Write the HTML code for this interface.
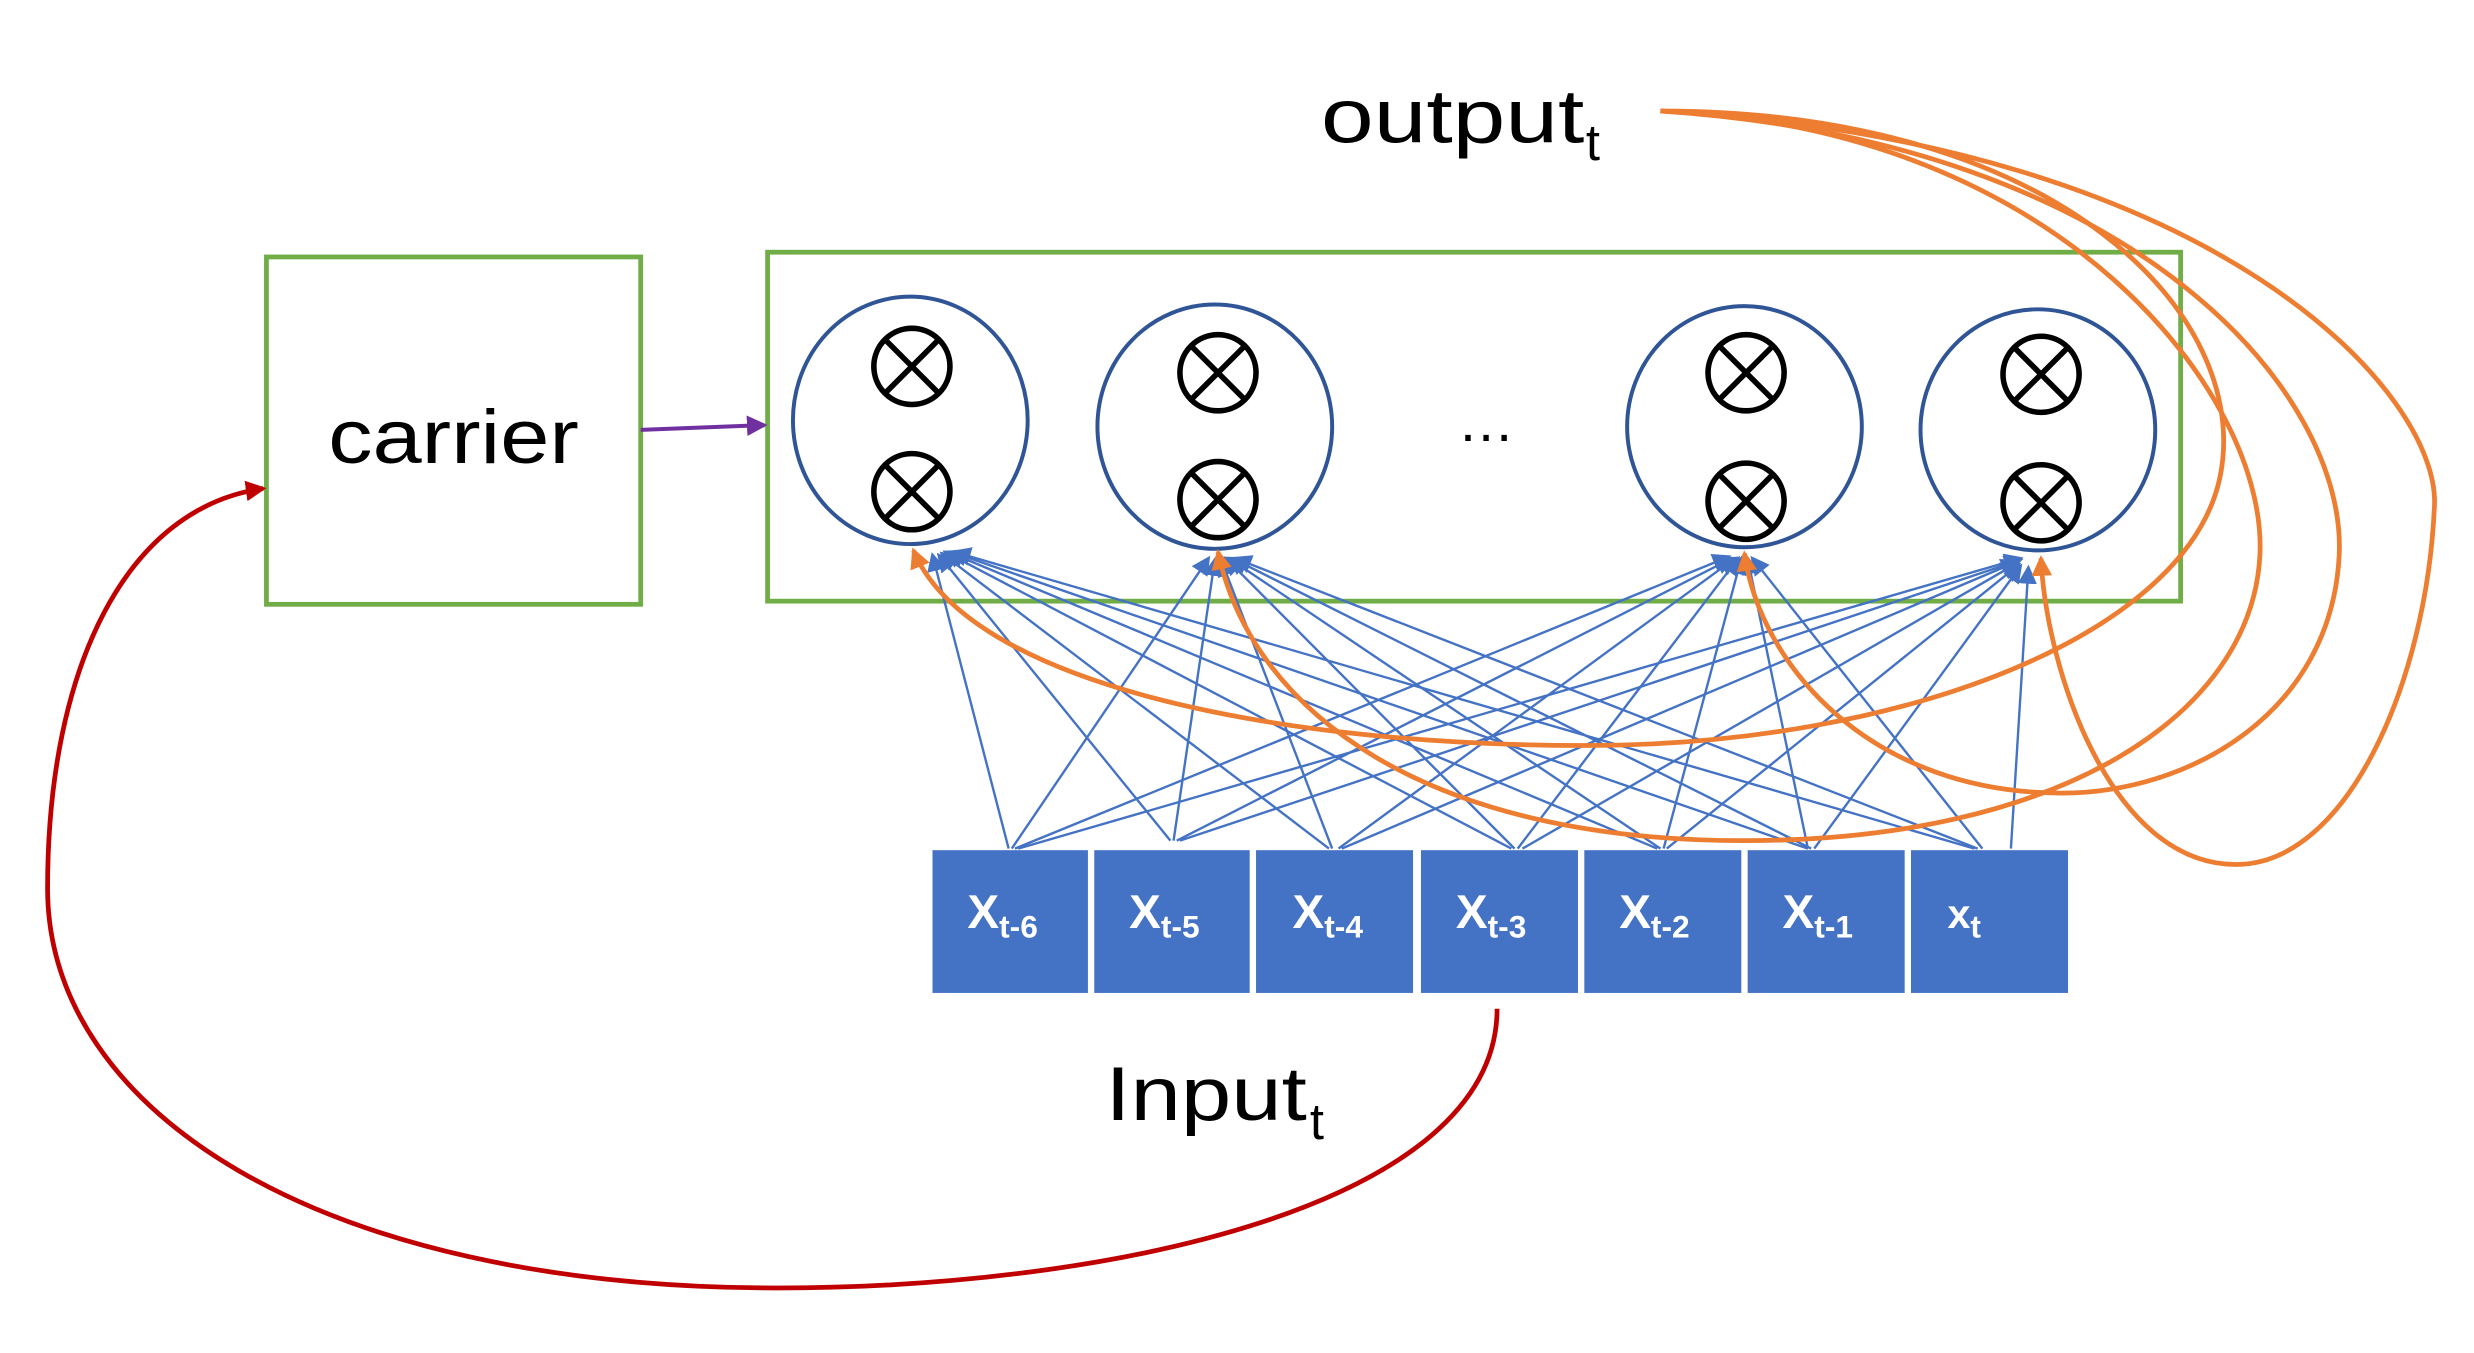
<!DOCTYPE html>
<html><head><style>html,body{margin:0;padding:0;background:#fff}svg{display:block}</style></head>
<body>
<svg width="2474" height="1353" viewBox="0 0 1560 853" preserveAspectRatio="none" xmlns="http://www.w3.org/2000/svg">
<defs>
<marker id="ab" markerWidth="12" markerHeight="12" refX="10" refY="6" orient="auto" markerUnits="userSpaceOnUse" viewBox="0 0 12 12"><path d="M0,0 L12,6 L0,12 z" fill="#4472C4"/></marker>
<marker id="ao" markerWidth="13" markerHeight="13" refX="11" refY="6.5" orient="auto" markerUnits="userSpaceOnUse" viewBox="0 0 13 13"><path d="M0,0 L13,6.5 L0,13 z" fill="#ED7D31"/></marker>
<marker id="ar" markerWidth="13" markerHeight="13" refX="11" refY="6.5" orient="auto" markerUnits="userSpaceOnUse" viewBox="0 0 13 13"><path d="M0,0 L13,6.5 L0,13 z" fill="#C00000"/></marker>
<marker id="ap" markerWidth="13" markerHeight="13" refX="11" refY="6.5" orient="auto" markerUnits="userSpaceOnUse" viewBox="0 0 13 13"><path d="M0,0 L13,6.5 L0,13 z" fill="#7030A0"/></marker>
</defs>
<rect x="168" y="162" width="236" height="219" fill="none" stroke="#70AD47" stroke-width="3"/>
<text x="207" y="292" font-family="Liberation Sans, sans-serif" font-size="48" textLength="158" lengthAdjust="spacingAndGlyphs" fill="#000">carrier</text>
<rect x="484" y="159" width="891" height="220" fill="none" stroke="#70AD47" stroke-width="3"/>
<line x1="404" y1="271" x2="482" y2="268" stroke="#7030A0" stroke-width="2.5" marker-end="url(#ap)"/>
<g fill="none" stroke="#2F5597" stroke-width="2.5">
<ellipse cx="574" cy="265" rx="74" ry="78"/>
<ellipse cx="766" cy="269" rx="74" ry="77"/>
<ellipse cx="1100" cy="269" rx="74" ry="76"/>
<ellipse cx="1285" cy="271" rx="74" ry="76"/>
</g>
<g fill="none" stroke="#000" stroke-width="3.5">
<ellipse cx="575" cy="231" rx="24" ry="24"/><path d="M558,214 L592,248 M592,214 L558,248"/>
<ellipse cx="575" cy="310" rx="24" ry="24"/><path d="M558,293 L592,327 M592,293 L558,327"/>
<ellipse cx="768" cy="235" rx="24" ry="24"/><path d="M751,218 L785,252 M785,218 L751,252"/>
<ellipse cx="768" cy="315" rx="24" ry="24"/><path d="M751,298 L785,332 M785,298 L751,332"/>
<ellipse cx="1101" cy="235" rx="24" ry="24"/><path d="M1084,218 L1118,252 M1118,218 L1084,252"/>
<ellipse cx="1101" cy="316" rx="24" ry="24"/><path d="M1084,299 L1118,333 M1118,299 L1084,333"/>
<ellipse cx="1287" cy="236" rx="24" ry="24"/><path d="M1270,219 L1304,253 M1304,219 L1270,253"/>
<ellipse cx="1287" cy="317" rx="24" ry="24"/><path d="M1270,300 L1304,334 M1304,300 L1270,334"/>
</g>
<text x="937" y="278" font-family="Liberation Sans, sans-serif" font-size="36" text-anchor="middle">…</text>
<g stroke="#4472C4" stroke-width="1.5" marker-end="url(#ab)">
<line x1="636" y1="535" x2="588" y2="350"/><line x1="638" y1="535" x2="762" y2="352"/><line x1="640" y1="535" x2="1090" y2="351"/><line x1="642" y1="535" x2="1274" y2="352"/>
<line x1="738" y1="530" x2="592" y2="350"/><line x1="740" y1="530" x2="766" y2="353"/><line x1="742" y1="530" x2="1092" y2="352"/><line x1="744" y1="530" x2="1274" y2="353"/>
<line x1="838" y1="535" x2="594" y2="349"/><line x1="840" y1="535" x2="770" y2="353"/><line x1="844" y1="535" x2="1094" y2="352"/><line x1="846" y1="535" x2="1272" y2="354"/>
<line x1="953" y1="535" x2="596" y2="348"/><line x1="955" y1="535" x2="773" y2="352"/><line x1="957" y1="535" x2="1096" y2="352"/><line x1="960" y1="535" x2="1272" y2="355"/>
<line x1="1045" y1="535" x2="598" y2="348"/><line x1="1047" y1="535" x2="775" y2="352"/><line x1="1049" y1="535" x2="1098" y2="352"/><line x1="1051" y1="535" x2="1273" y2="356"/>
<line x1="1140" y1="535" x2="600" y2="348"/><line x1="1142" y1="535" x2="777" y2="352"/><line x1="1140" y1="535" x2="1102" y2="352"/><line x1="1144" y1="535" x2="1274" y2="357"/>
<line x1="1245" y1="535" x2="602" y2="348"/><line x1="1247" y1="535" x2="779" y2="352"/><line x1="1250" y1="535" x2="1105" y2="352"/><line x1="1268" y1="535" x2="1279" y2="358"/>
</g>
<g fill="none" stroke="#ED7D31" stroke-width="3" marker-end="url(#ao)">
<path d="M1047,70 C1300,70 1420,200 1400,300 C1380,400 1200,470 1000,470 C800,470 610,430 576,347"/>
<path d="M1047,70 C1300,80 1430,250 1425,350 C1420,450 1300,530 1100,530 C900,530 790,450 768,348"/>
<path d="M1047,70 C1350,90 1480,250 1475,350 C1470,450 1380,500 1300,500 C1180,500 1110,420 1100,349"/>
<path d="M1047,70 C1400,90 1540,250 1535,320 C1530,430 1480,545 1410,545 C1330,545 1290,420 1287,352"/>
</g>
<path d="M944,636 C944,760 700,812 490,812 C200,812 30,700 30,560 C30,420 80,320 166,308" fill="none" stroke="#C00000" stroke-width="3" marker-end="url(#ar)"/>
<g fill="#4472C4">
<rect x="588" y="536" width="98" height="90"/><rect x="690" y="536" width="98" height="90"/><rect x="792" y="536" width="99" height="90"/><rect x="896" y="536" width="99" height="90"/><rect x="999" y="536" width="99" height="90"/><rect x="1102" y="536" width="99" height="90"/><rect x="1205" y="536" width="99" height="90"/>
</g>
<g font-family="Liberation Sans, sans-serif" font-weight="bold" fill="#fff" font-size="30">
<text x="610" y="585">X<tspan font-size="20" dy="6">t-6</tspan></text>
<text x="712" y="585">X<tspan font-size="20" dy="6">t-5</tspan></text>
<text x="815" y="585">X<tspan font-size="20" dy="6">t-4</tspan></text>
<text x="918" y="585">X<tspan font-size="20" dy="6">t-3</tspan></text>
<text x="1021" y="585">X<tspan font-size="20" dy="6">t-2</tspan></text>
<text x="1124" y="585">X<tspan font-size="20" dy="6">t-1</tspan></text>
<text x="1228" y="585" font-size="26">x<tspan font-size="20" dy="6">t</tspan></text>
</g>
<text x="833" y="90" font-family="Liberation Sans, sans-serif" font-size="48" textLength="166" lengthAdjust="spacingAndGlyphs">output</text>
<text x="1000" y="101" font-family="Liberation Sans, sans-serif" font-size="32">t</text>
<text x="697" y="706" font-family="Liberation Sans, sans-serif" font-size="48" textLength="127" lengthAdjust="spacingAndGlyphs">Input</text>
<text x="826" y="718" font-family="Liberation Sans, sans-serif" font-size="32">t</text>
</svg>
</body></html>
